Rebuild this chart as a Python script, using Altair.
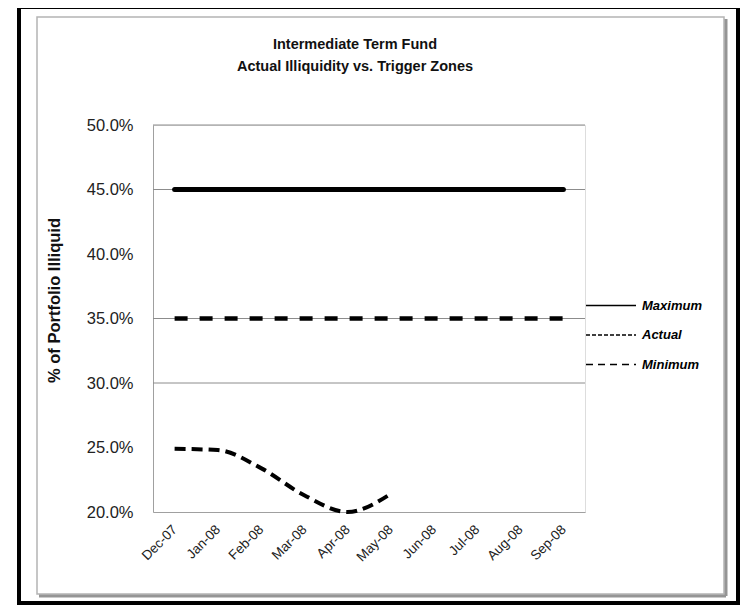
import altair as alt
import pandas as pd

months = ["Dec-07", "Jan-08", "Feb-08", "Mar-08", "Apr-08",
          "May-08", "Jun-08", "Jul-08", "Aug-08", "Sep-08"]
maximum = [0.45, 0.45, 0.45, 0.45, 0.45, 0.45, 0.45, 0.45, 0.45, 0.45]
minimum = [0.35, 0.35, 0.35, 0.35, 0.35, 0.35, 0.35, 0.35, 0.35, 0.35]
actual_months = ["Dec-07", "Jan-08", "Feb-08", "Mar-08", "Apr-08", "May-08"]
actual = [0.249, 0.248, 0.234, 0.213, 0.200, 0.214]
y_ticks = [0.20, 0.25, 0.30, 0.35, 0.40, 0.45, 0.50]
grid_values = [0.30, 0.35, 0.45, 0.50]
series_names = ["Maximum", "Actual", "Minimum"]

FONT = "Liberation Sans"
W, H = 432, 387

rows = []
for m, v in zip(months, maximum):
    rows.append({"month": m, "value": v, "series": "Maximum"})
for m, v in zip(actual_months, actual):
    rows.append({"month": m, "value": v, "series": "Actual"})
for m, v in zip(months, minimum):
    rows.append({"month": m, "value": v, "series": "Minimum"})
df = pd.DataFrame(rows)

xenc = alt.X("month:O", sort=months,
             scale=alt.Scale(type="point", domain=months, padding=0.5),
             axis=alt.Axis(title=None, labelAngle=-45, labelFontSize=13.5,
                           labelFont=FONT, labelColor="#222222",
                           labelPadding=15, ticks=False, domainColor="#a0a0a0",
                           labelAlign="right", labelBaseline="middle"))
yscale = alt.Scale(domain=[0.20, 0.50], nice=False, zero=False)
yenc = alt.Y("value:Q", scale=yscale,
             axis=alt.Axis(values=y_ticks, format=".1%", grid=False, ticks=False,
                           labelFontSize=16.5, labelFont=FONT, labelColor="#222222",
                           labelPadding=20, domainColor="#a0a0a0",
                           title="% of Portfolio Illiquid", titleFontSize=16.5,
                           titleFont=FONT, titleFontWeight="bold", titleColor="#111111",
                           titleX=-91, titleY=175))

base = alt.Chart(df)

grid = alt.Chart(pd.DataFrame({"g": grid_values})).mark_rule(
    color="#8c8c8c", strokeWidth=1).encode(y=alt.Y("g:Q", scale=yscale))

max_line = base.transform_filter(alt.datum.series == "Maximum").mark_line(
    color="black", strokeWidth=5, strokeCap="round").encode(x=xenc, y=yenc)
min_line = base.transform_filter(alt.datum.series == "Minimum").mark_line(
    color="black", strokeWidth=4.5, strokeDash=[13, 12]).encode(x=xenc, y=yenc)
act_line = base.transform_filter(alt.datum.series == "Actual").mark_line(
    color="black", strokeWidth=4, strokeDash=[11, 6], interpolate="monotone").encode(x=xenc, y=yenc)

legend_layer = base.mark_line(color="black", opacity=0).encode(
    x=xenc, y=yenc,
    strokeDash=alt.StrokeDash("series:N",
        scale=alt.Scale(domain=series_names, range=[[1, 0], [4, 2], [7, 5]]),
        legend=alt.Legend(title=None, orient="none", legendX=432, legendY=166,
                          symbolType="stroke", symbolSize=2500, symbolStrokeWidth=1.5,
                          symbolOpacity=1, symbolStrokeColor="black",
                          labelFont=FONT, labelFontSize=13, labelFontStyle="italic",
                          labelFontWeight="bold", labelColor="black",
                          labelOffset=5, clipHeight=29, rowPadding=0.5)))

one = pd.DataFrame({"a": [0]})
outer = alt.Chart(one).mark_rect(fill="transparent", stroke="black", strokeWidth=4).encode(
    x=alt.value(-134), x2=alt.value(585), y=alt.value(-118), y2=alt.value(478))
inner = alt.Chart(one).mark_rect(fill="transparent", stroke="#b4b4b4", strokeWidth=1.5).encode(
    x=alt.value(-116), x2=alt.value(571), y=alt.value(-108), y2=alt.value(469))
shadow_r = alt.Chart(one).mark_rule(stroke="#959595", strokeWidth=3).encode(
    x=alt.value(573), y=alt.value(-106), y2=alt.value(471))
shadow_b = alt.Chart(one).mark_rule(stroke="#959595", strokeWidth=3).encode(
    x=alt.value(-114), x2=alt.value(573), y=alt.value(471))

chart = alt.layer(outer, inner, shadow_r, shadow_b, grid, max_line, min_line, act_line,
                  legend_layer).properties(
    width=W, height=H,
    title=alt.TitleParams(["Intermediate Term Fund", "Actual Illiquidity vs. Trigger Zones"],
                          font=FONT, fontSize=14.5, fontWeight="bold", color="#111111",
                          anchor="middle", frame="group", dx=-14, offset=0, dy=69,
                          lineHeight=22),
    padding={"left": 145, "top": 117, "right": 157, "bottom": 93},
    autosize=alt.AutoSizeParams(type="none"),
).configure_view(stroke=None).configure(background="white")

chart.save("out.html", embed_options={"renderer": "svg", "actions": False})
